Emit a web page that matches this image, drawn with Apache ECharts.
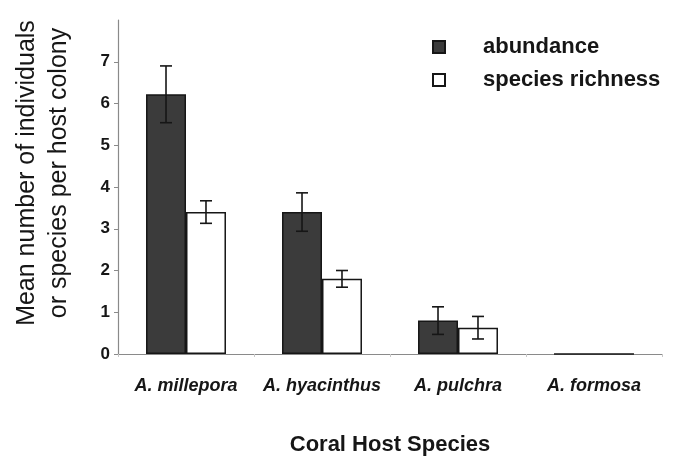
<!DOCTYPE html>
<html>
<head>
<meta charset="utf-8">
<script src="https://cdn.jsdelivr.net/npm/echarts@6/dist/echarts.min.js"></script>
<style>
html,body{margin:0;padding:0;background:#fff;}
#chart{width:675px;height:461px;}
</style>
</head>
<body>
<div id="chart"></div>
<script>
var categories = ['A. millepora', 'A. hyacinthus', 'A. pulchra', 'A. formosa'];
var abundance = [6.22, 3.40, 0.80, 0];
var abundanceErr = [0.68, 0.46, 0.33, 0];
var richness = [3.40, 1.80, 0.63, 0];
var richnessErr = [0.27, 0.20, 0.27, 0];
var yTicks = [0, 1, 2, 3, 4, 5, 6, 7];

var FONT = 'Liberation Sans, Arial, sans-serif';
var INK = '#161616';
var BAR_FRAC = 0.294;

function errData(vals, errs, side) {
  return vals.map(function (v, i) { return [i, v - errs[i], v + errs[i], side, errs[i]]; });
}

function renderErr(params, api) {
  var idx = api.value(0);
  var lo = api.value(1), hi = api.value(2), side = api.value(3), e = api.value(4);
  if (e <= 0) return null;
  var band = api.size([1, 0])[0];
  var off = side * band * BAR_FRAC / 2;
  var pHi = api.coord([idx, hi]);
  var pLo = api.coord([idx, lo]);
  var x = pHi[0] + off;
  var cap = 6;
  var st = { stroke: INK, lineWidth: 1.6 };
  return {
    type: 'group',
    children: [
      { type: 'line', shape: { x1: x, y1: pHi[1], x2: x, y2: pLo[1] }, style: st },
      { type: 'line', shape: { x1: x - cap, y1: pHi[1], x2: x + cap, y2: pHi[1] }, style: st },
      { type: 'line', shape: { x1: x - cap, y1: pLo[1], x2: x + cap, y2: pLo[1] }, style: st }
    ]
  };
}

var chart = echarts.init(document.getElementById('chart'));
chart.setOption({
  animation: false,
  backgroundColor: '#fff',
  grid: { left: 118, right: 13, top: 20, bottom: 103 },
  legend: {
    data: ['abundance', 'species richness'],
    orient: 'vertical',
    left: 427,
    top: 31,
    icon: 'rect',
    itemWidth: 12,
    itemHeight: 12,
    itemGap: 11,
    textStyle: { fontFamily: FONT, fontSize: 22, fontWeight: 'bold', color: INK, padding: [0, 0, 0, 33], lineHeight: 22 }
  },
  xAxis: {
    type: 'category',
    data: categories,
    axisLine: { lineStyle: { color: '#8a8a8a', width: 1.2 } },
    axisTick: { show: true, length: 3, lineStyle: { color: '#c8c8c8' } },
    axisLabel: { interval: 0, fontFamily: FONT, fontSize: 18, fontWeight: 'bold', fontStyle: 'italic', color: INK, margin: 23 },
    name: 'Coral Host Species',
    nameLocation: 'middle',
    nameGap: 80,
    nameTextStyle: { fontFamily: FONT, fontSize: 22, fontWeight: 'bold', color: INK }
  },
  yAxis: {
    type: 'value',
    min: 0,
    max: 8,
    interval: 1,
    axisLine: { show: true, lineStyle: { color: '#8a8a8a', width: 1.2 } },
    axisTick: { show: true, length: 4, lineStyle: { color: '#8a8a8a' }, customValues: yTicks },
    splitLine: { show: false },
    axisLabel: {
      fontFamily: FONT, fontSize: 17, fontWeight: 'bold', color: INK, margin: 8,
      customValues: yTicks,
      formatter: function (v) { return v >= 8 ? '' : String(v); }
    },
    name: 'Mean number of individuals\nor species per host colony',
    nameLocation: 'middle',
    nameRotate: 90,
    nameGap: 43,
    nameTextStyle: { fontFamily: FONT, fontSize: 25, color: INK, lineHeight: 32, padding: [0, 0, 0, 28] }
  },
  series: [
    {
      name: 'abundance',
      type: 'bar',
      data: abundance,
      barWidth: (BAR_FRAC * 100) + '%',
      barGap: '0%',
      itemStyle: { color: '#3b3b3b', borderColor: INK, borderWidth: 1.5 }
    },
    {
      name: 'species richness',
      type: 'bar',
      data: richness,
      barWidth: (BAR_FRAC * 100) + '%',
      barGap: '0%',
      itemStyle: { color: '#ffffff', borderColor: INK, borderWidth: 1.5 }
    },
    {
      name: 'abundance error',
      type: 'custom',
      renderItem: renderErr,
      data: errData(abundance, abundanceErr, -1),
      encode: { x: 0, y: [1, 2] },
      z: 10
    },
    {
      name: 'richness error',
      type: 'custom',
      renderItem: renderErr,
      data: errData(richness, richnessErr, 1),
      encode: { x: 0, y: [1, 2] },
      z: 10
    }
  ]
});
</script>
</body>
</html>
